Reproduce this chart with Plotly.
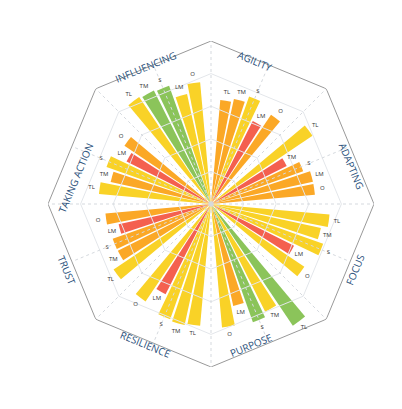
import plotly.graph_objects as go
import math

categories = ["AGILITY", "ADAPTING", "FOCUS", "PURPOSE", "RESILIENCE", "TRUST", "TAKING ACTION", "INFLUENCING"]
groups = ["TL", "TM", "S", "LM", "O"]
values = {
    "AGILITY":       [64, 66, 70, 57, 66],
    "ADAPTING":      [75, 52, 60, 64, 64],
    "FOCUS":         [73, 69, 73, 57, 69],
    "PURPOSE":       [90, 74, 77, 64, 76],
    "RESILIENCE":    [75, 76, 75, 62, 72],
    "TRUST":         [72, 64, 64, 58, 65],
    "TAKING ACTION": [69, 63, 68, 58, 64],
    "INFLUENCING":   [79, 78, 77, 69, 75],
}
colors_by_cat = {
    "AGILITY":       ["o", "o", "y", "r", "o"],
    "ADAPTING":      ["y", "r", "o", "o", "o"],
    "FOCUS":         ["y", "y", "y", "r", "y"],
    "PURPOSE":       ["g", "y", "g", "o", "y"],
    "RESILIENCE":    ["y", "y", "y", "r", "y"],
    "TRUST":         ["y", "o", "o", "r", "o"],
    "TAKING ACTION": ["y", "o", "y", "r", "o"],
    "INFLUENCING":   ["y", "g", "g", "y", "y"],
}
palette = {"y": "#F9D227", "o": "#FBA826", "r": "#F4604F", "g": "#8BC45A"}
rings = [20, 40, 60, 80, 100]
vertex_angles = [0, 45, 90, 135, 180, 225, 270, 315, 360]

fig = go.Figure()
# octagonal grid
for rv in rings:
    fig.add_trace(go.Scatterpolar(r=[rv] * len(vertex_angles), theta=vertex_angles, mode="lines",
                                  line=dict(color="#999999" if rv == 100 else "#E3E6EA", width=1),
                                  hoverinfo="skip"))
for a in vertex_angles[:-1] + [22.5 + 45 * k for k in range(8)]:
    fig.add_trace(go.Scatterpolar(r=[0, 100 if a % 45 == 0 else 92.4], theta=[a, a], mode="lines",
                                  line=dict(color="#D5D9DE", width=1, dash="dot"), hoverinfo="skip"))

thetas, rs, cols, texts = [], [], [], []
for k, c in enumerate(categories):
    center = 22.5 + 45 * k
    for i, g in enumerate(groups):
        thetas.append(center + (i - 2) * 7.2)
        rs.append(values[c][i])
        cols.append(palette[colors_by_cat[c][i]])
        texts.append(g)

fig.add_trace(go.Barpolar(r=rs, theta=thetas, width=[6] * len(rs),
                          marker=dict(color=cols, line=dict(width=0)),
                          hoverinfo="skip"))
fig.add_trace(go.Scatterpolar(r=[v + 5 for v in rs], theta=thetas, mode="text", text=texts,
                              textfont=dict(size=6, color="#333", family="Open Sans"),
                              hoverinfo="skip"))

W, H = 402, 409
cx, cy, R = 203, 196, 163
for k, c in enumerate(categories):
    a = 22.5 + 45 * k
    rad = math.radians(a)
    px = cx + 172 * math.sin(rad)
    py = cy - 172 * math.cos(rad)
    if a < 90:
        ang = a
    elif a > 270:
        ang = a - 360
    else:
        ang = a - 180
    fig.add_annotation(x=px / W, y=1 - py / H, xref="paper", yref="paper", text=c,
                       showarrow=False, textangle=ang,
                       font=dict(size=10, color="#1F4E79", family="Open Sans"))

fig.update_layout(
    width=W, height=H, margin=dict(l=0, r=0, t=0, b=0),
    paper_bgcolor="white", showlegend=False,
    polar=dict(
        domain=dict(x=[(cx - R) / W, (cx + R) / W], y=[1 - (cy + R) / H, 1 - (cy - R) / H]),
        bgcolor="rgba(0,0,0,0)",
        radialaxis=dict(range=[0, 100], showticklabels=False, ticks="", showgrid=False, showline=False),
        angularaxis=dict(rotation=90, direction="clockwise", showticklabels=False, ticks="",
                         showgrid=False, showline=False),
    ),
)
fig.write_html("out.html")
